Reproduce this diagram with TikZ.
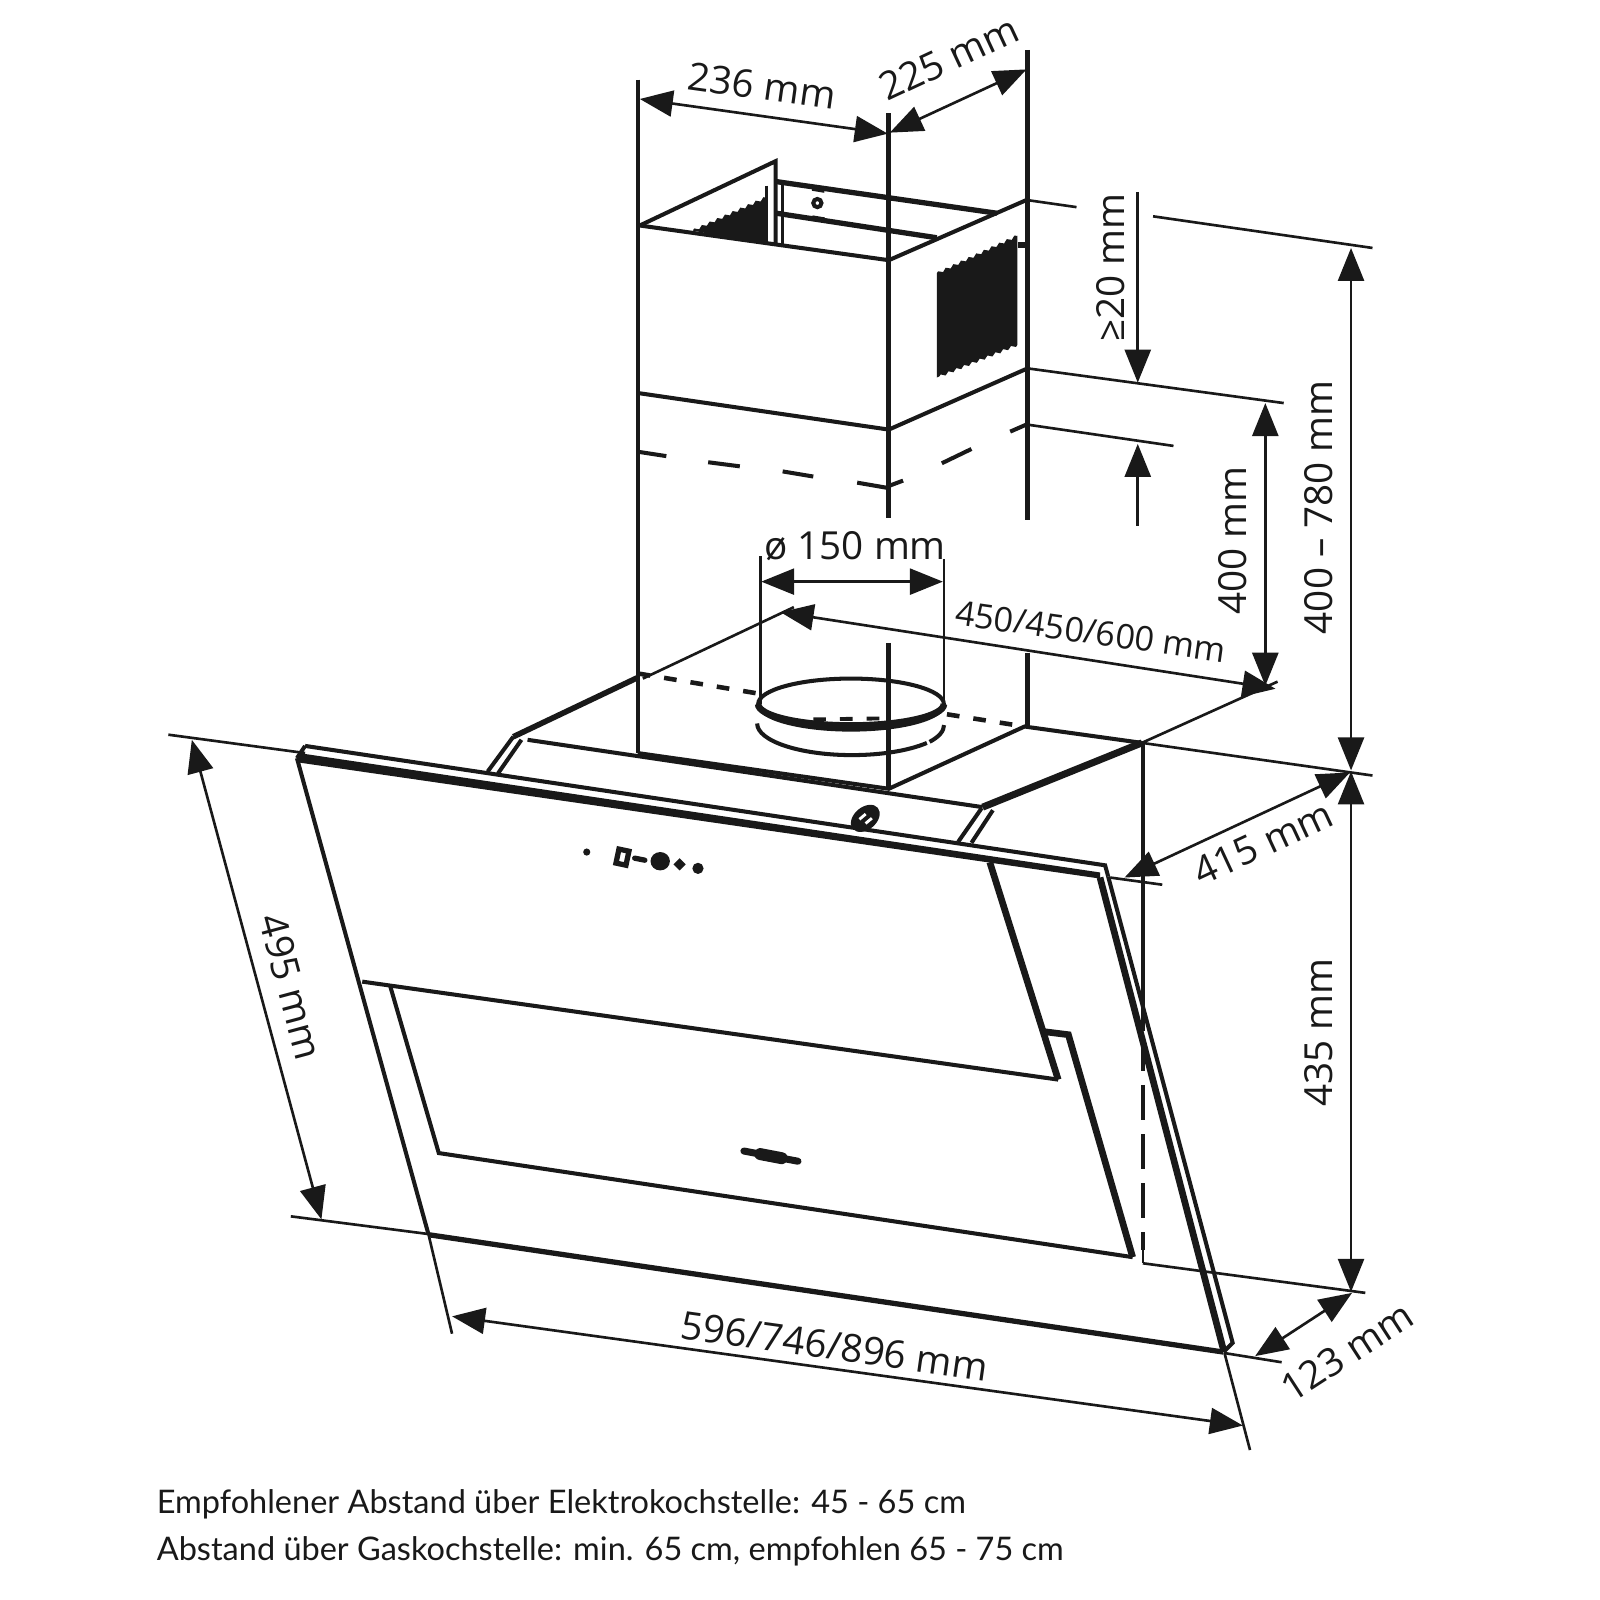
\documentclass[tikz,border=0pt]{standalone}
\usepackage{fontspec}
\setmainfont{Open Sans}
\newfontfamily\notefont{Lato}
\usetikzlibrary{arrows.meta,decorations.pathmorphing}
\tikzset{
  thinline/.style={line width=0.75pt,black!90},
  medline/.style={line width=1.15pt,black!90},
  postline/.style={line width=1.4pt,black!90},
  heavyline/.style={line width=1.9pt,black!90},
  dotline/.style={line width=1.3pt,black!90,dash pattern=on 3.6pt off 4pt},
  dimline/.style={line width=0.75pt,black!90,{Triangle[length=3.3mm,width=2.6mm]}-{Triangle[length=3.3mm,width=2.6mm]}},
  oneway/.style={line width=0.75pt,black!90,-{Triangle[length=3.3mm,width=2.6mm]}},
  dimtext/.style={font=\fontsize{11pt}{13pt}\selectfont,inner sep=0pt,black!90},
  notetext/.style={font=\notefont\fontsize{9.25pt}{12pt}\selectfont,inner sep=0pt,anchor=west,black!90},
  jagged/.style={decoration={zigzag,amplitude=0.4pt,segment length=2.4pt}}
}
\begin{document}
\begin{tikzpicture}[x=0.010204cm,y=-0.010204cm]%hood
\useasboundingbox (0,0) rectangle (1568,1568);
\fill[white] (0,0) rectangle (1568,1568);
%chimney
\draw[medline] (625,78) -- (625,738);
\draw[postline] (871,111) -- (871,508) (871,630) -- (871,772);
\draw[postline] (1007,49) -- (1007,510) (1007,640) -- (1007,712);
\draw[medline] (627,221) -- (871,255) -- (1006,196);
\draw[medline] (627,221) -- (760,158) -- (760,240);
\draw[heavyline,line width=1.5pt] (761,178) -- (977,209);
\draw[heavyline,line width=1.5pt] (761,209) -- (918,233);
\draw[thinline] (751,182) -- (751,240) (767,180) -- (767,240);
\fill[black!90] decorate[jagged] {(679,226) -- (752,193)} -- (752,240) -- cycle;
\fill[black!90] decorate[jagged] {(918,268) -- (997,231)} -- (997,338) decorate[jagged] {-- (918,370)} -- cycle;
\draw[line width=1.5pt,black!90] (998,240) -- (1006,240);
\draw[medline] (801,199) circle (4);
\draw[medline] (796,185) -- (808,187) (796,213) -- (808,215);
\draw[medline] (624,385) -- (871,421) -- (1007,361);
\foreach \xa/\ya/\xb/\yb in {627/443/653/447,694/453/725/457,767/462/797/467,840/473/869/478,869/477/885/471,923/454/952/440,990/423/1006/416}
  \draw[medline] (\xa,\ya) -- (\xb,\yb);
%duct
\draw[medline] (834,690) ellipse (91 and 25);
\draw[heavyline] (743,690) arc (180:0:91 and 21);
\draw[medline] (742,709) arc (180:38:93 and 31);
\draw[medline] (911,727) arc (32:0:93 and 31);
\draw[dotline] (625,660) -- (745,680);
\draw[dotline] (928,700) -- (1004,712);
\draw[dotline,line width=1.1pt] (797,705) -- (868,704);
%hood body
\draw[line width=1.6pt,black!90] (503,722) -- (625,664);
\draw[medline] (503,722) -- (478,756) (511,725) -- (488,758);
\draw[medline] (517,725) -- (963,791);
\draw[medline] (625,738) -- (871,773) -- (1004,712) -- (1119,728);
\draw[line width=2pt,black!90] (963,791) -- (1119,728);
\draw[medline] (962,792) -- (939,825) (973,794) -- (952,826);
\fill[black!90,rotate around={40:(848,802)}] (848,802) ellipse (16 and 11);
\draw[white,line width=0.8pt,rotate around={40:(848,802)}] (843,799) -- (851,799) (845,806) -- (853,806);
\draw[postline,line width=1.1pt] (1120,728) -- (1120,1010);
\draw[medline,dash pattern=on 10pt off 4pt] (1120,1015) -- (1120,1225);
\draw[thinline] (1120,1225) -- (1120,1238);
%glass
\draw[medline] (299,731) -- (1083,848) -- (1086,859);
\draw[medline] (299,731) -- (291,743);
\fill[black!90] (293,738) -- (1078,855) -- (1078,861) -- (291,747) -- cycle;
\draw[medline] (291,743) -- (420,1210);
\draw[line width=1.5pt,black!90] (420,1210) -- (1199,1325);
\draw[heavyline] (1078,860) -- (1199,1323);
\draw[medline] (1086,859) -- (1208,1316) -- (1199,1325);
\draw[heavyline] (970,845) -- (1037,1058);
\draw[medline] (355,962) -- (1037,1058);
\draw[medline] (382,965) -- (430,1130) -- (1110,1232);
\draw[heavyline] (1110,1232) -- (1047,1014) -- (1023,1011);
\draw[line width=2pt,line cap=round,black!90] (729,1128) -- (782,1138);
\draw[line width=3.4pt,line cap=round,black!90] (745,1131) -- (766,1135);
\fill[black!90] (575,835) circle (3.5);
\draw[line width=1.5pt,black!90,rotate around={-12:(610,840)}] (605,833) rectangle (615,847);
\draw[line width=1.5pt,line cap=round,black!90] (622,841) -- (632,843);
\fill[black!90] (647,844) ellipse (9.5 and 9);
\fill[black!90] (666,841) -- (672,847) -- (666,853) -- (660,847) -- cycle;
\fill[black!90] (684,851) circle (5.5);
%extension lines
\draw[thinline] (1006,196) -- (1055,203) (1130,212) -- (1345,243);
\draw[thinline] (1007,361) -- (1258,395);
\draw[thinline] (1006,416) -- (1150,437);
\draw[thinline] (1119,728) -- (1345,760);
\draw[thinline] (1088,860) -- (1139,867);
\draw[thinline] (1119,728) -- (1252,668);
\draw[thinline] (630,665) -- (778,595);
\draw[thinline] (745,545) -- (745,690) (925,548) -- (925,695);
\draw[thinline] (1120,1238) -- (1338,1267);
\draw[thinline] (1200,1326) -- (1256,1335);
\draw[thinline] (165,720) -- (299,738);
\draw[thinline] (285,1192) -- (425,1210);
\draw[thinline] (420,1210) -- (443,1307);
\draw[thinline] (1200,1326) -- (1225,1421);
%dimensions
\draw[dimline] (627,97) -- (870,131);
\draw[dimline] (872,130) -- (1006,68);
\draw[oneway] (1115,188) -- (1115,375);
\draw[oneway] (1115,515) -- (1115,435);
\draw[dimline] (1240,395) -- (1240,672);
\draw[dimline] (1324,243) -- (1324,755);
\draw[dimline] (1324,756) -- (1324,1266);
\draw[dimline] (1102,860) -- (1323,757);
\draw[dimline] (1230,1329) -- (1325,1267);
\draw[dimline] (443,1290) -- (1218,1397);
\draw[dimline] (188,725) -- (315,1195);
\draw[dimline] (765,600) -- (1250,675);
\draw[dimline] (746,570) -- (924,570);
%labels
\node[dimtext,rotate=-8] (wdepth) at (747,84) {236 mm};
\node[dimtext,rotate=25] (wside) at (930,57) {225 mm};
\node[dimtext,rotate=90] (gap) at (1088,262) {≥20 mm};
\node[dimtext,rotate=90] (hsmall) at (1208,530) {400 mm};
\node[dimtext,rotate=90] (hfull) at (1292,497) {400 – 780 mm};
\node[dimtext,rotate=90] (hlow) at (1292,1012) {435 mm};
\node[dimtext,rotate=25] (dtop) at (1238,826) {415 mm};
\node[dimtext,rotate=33] (dlow) at (1320,1325) {123 mm};
\node[dimtext,rotate=-8] (wfull) at (818,1319) {596/746/896 mm};
\node[dimtext,rotate=-75] (hglass) at (285,967) {495 mm};
\node[dimtext,rotate=-8,font=\fontsize{9.7pt}{12pt}\selectfont] (wtop) at (1069,619) {450/450/600 mm};
\node[dimtext] (dia) at (838,535) {ø 150 mm};
\node[notetext] (noteone) at (153,1474) {Empfohlener Abstand über Elektrokochstelle: 45 - 65 cm};
\node[notetext] (notetwo) at (153,1520) {Abstand über Gaskochstelle: min. 65 cm, empfohlen 65 - 75 cm};
\end{tikzpicture}
\end{document}
